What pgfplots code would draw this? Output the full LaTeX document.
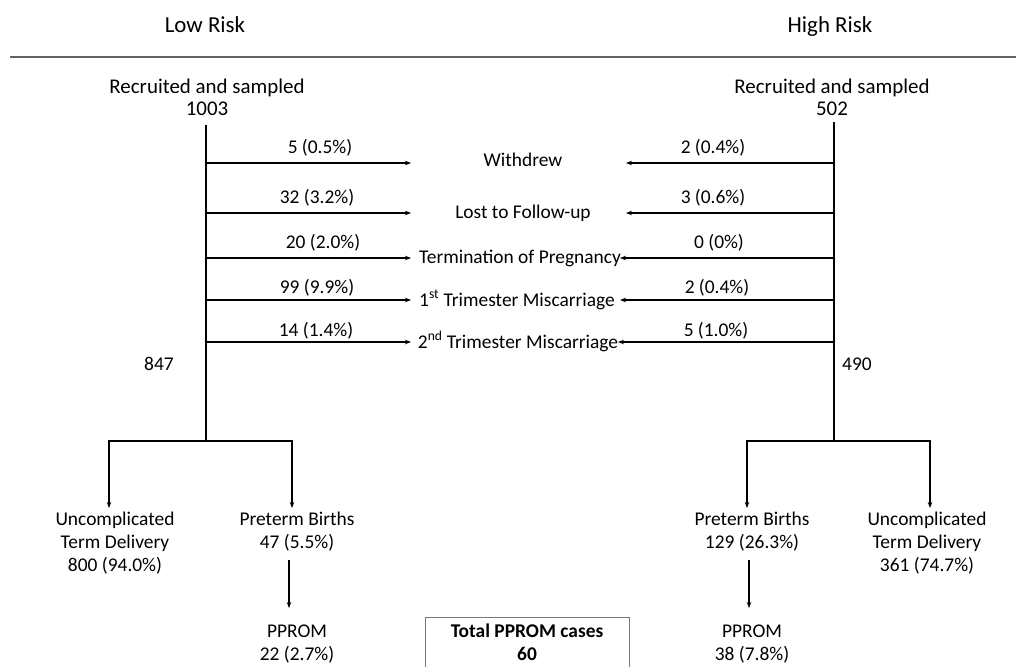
\documentclass[border=0pt]{standalone}
\usepackage{pgfplots}
\pgfplotsset{compat=1.18}
\usepackage{fontspec}
\setmainfont{Carlito}
\usetikzlibrary{arrows.meta}
\begin{document}
\begin{tikzpicture}[font=\fontsize{19.5}{22}\selectfont,
  ln/.style={black, line width=1.6bp},
  arr/.style={black, line width=1.6bp, -{Stealth[length=6bp,width=4.5bp]}},
  t/.style={anchor=base, inner sep=0pt, align=center},
  big/.style={font=\fontsize{21}{24}\selectfont},
  huge/.style={font=\fontsize{23}{26}\selectfont}]
\begin{axis}[width=1016bp, height=666bp, scale only axis,
  xmin=0, xmax=1016, ymin=0, ymax=666, y dir=reverse,
  axis lines=none, clip=false]
% header rule
\addplot[draw={rgb,255:red,100;green,100;blue,100}, line width=1.2bp, no marks] coordinates {(10,57) (1016,57)};
% main verticals
\addplot[ln, no marks] coordinates {(206,125) (206,441)};
\addplot[ln, no marks] coordinates {(834,122) (834,441)};
% left exclusion arrows
\addplot[arr, no marks] coordinates {(206,163) (411,163)};
\addplot[arr, no marks] coordinates {(206,213) (411,213)};
\addplot[arr, no marks] coordinates {(206,258) (411,258)};
\addplot[arr, no marks] coordinates {(206,300) (411,300)};
\addplot[arr, no marks] coordinates {(206,342) (411,342)};
% right exclusion arrows
\addplot[arr, no marks] coordinates {(834,163) (626,163)};
\addplot[arr, no marks] coordinates {(834,213) (626,213)};
\addplot[arr, no marks] coordinates {(834,258) (620,258)};
\addplot[arr, no marks] coordinates {(834,300) (620,300)};
\addplot[arr, no marks] coordinates {(834,342) (618,342)};
% brackets
\addplot[black, line width=2.6bp, no marks, {Stealth[length=6bp,width=4.5bp]}-{Stealth[length=6bp,width=4.5bp]}] coordinates {(109,508) (109,441) (292,441) (292,508)};
\addplot[black, line width=2.6bp, no marks, {Stealth[length=6bp,width=4.5bp]}-{Stealth[length=6bp,width=4.5bp]}] coordinates {(747,508) (747,441) (930,441) (930,508)};
% PPROM arrows
\addplot[arr, no marks] coordinates {(289,560) (289,608)};
\addplot[arr, no marks] coordinates {(749,560) (749,608)};
% total box
\addplot[draw={rgb,255:red,120;green,120;blue,120}, line width=1bp, no marks] coordinates {(425,667) (425,617) (629,617) (629,667)};
% texts
\node[t, huge] at (axis cs:205,33) {Low Risk};
\node[t, huge] at (axis cs:830,33) {High Risk};
\node[t, big] at (axis cs:207,93) {Recruited and sampled};
\node[t, big] at (axis cs:207,115) {1003};
\node[t, big] at (axis cs:832,93) {Recruited and sampled};
\node[t, big] at (axis cs:832,115) {502};
\node[t] at (axis cs:320,153) {5 (0.5\%)};
\node[t] at (axis cs:317,203) {32 (3.2\%)};
\node[t] at (axis cs:323,248) {20 (2.0\%)};
\node[t] at (axis cs:317,293) {99 (9.9\%)};
\node[t] at (axis cs:316,336) {14 (1.4\%)};
\node[t] at (axis cs:713,153) {2 (0.4\%)};
\node[t] at (axis cs:713,203) {3 (0.6\%)};
\node[t] at (axis cs:719,248) {0 (0\%)};
\node[t] at (axis cs:717,293) {2 (0.4\%)};
\node[t] at (axis cs:716,336) {5 (1.0\%)};
\node[t] at (axis cs:523,166) {Withdrew};
\node[t] at (axis cs:523,218) {Lost to Follow-up};
\node[t] at (axis cs:520,263) {Termination of Pregnancy};
\node[t] at (axis cs:517,306) {1\textsuperscript{st} Trimester Miscarriage};
\node[t] at (axis cs:518,348) {2\textsuperscript{nd} Trimester Miscarriage};
\node[t] at (axis cs:159,370) {847};
\node[t] at (axis cs:857,370) {490};
\node[t] at (axis cs:115,525) {Uncomplicated};
\node[t] at (axis cs:115,548) {Term Delivery};
\node[t] at (axis cs:115,571) {800 (94.0\%)};
\node[t] at (axis cs:297,525) {Preterm Births};
\node[t] at (axis cs:297,548) {47 (5.5\%)};
\node[t] at (axis cs:297,637) {PPROM};
\node[t] at (axis cs:297,660) {22 (2.7\%)};
\node[t] at (axis cs:752,525) {Preterm Births};
\node[t] at (axis cs:752,548) {129 (26.3\%)};
\node[t] at (axis cs:752,637) {PPROM};
\node[t] at (axis cs:752,660) {38 (7.8\%)};
\node[t] at (axis cs:927,525) {Uncomplicated};
\node[t] at (axis cs:927,548) {Term Delivery};
\node[t] at (axis cs:927,571) {361 (74.7\%)};
\node[t, font=\fontsize{19.5}{22}\selectfont\bfseries] at (axis cs:527,637) {Total PPROM cases};
\node[t, font=\fontsize{19.5}{22}\selectfont\bfseries] at (axis cs:527,660) {60};
\end{axis}
\pgfresetboundingbox
\path[use as bounding box] (current axis.south west) rectangle (current axis.north east);
\end{tikzpicture}
\end{document}
